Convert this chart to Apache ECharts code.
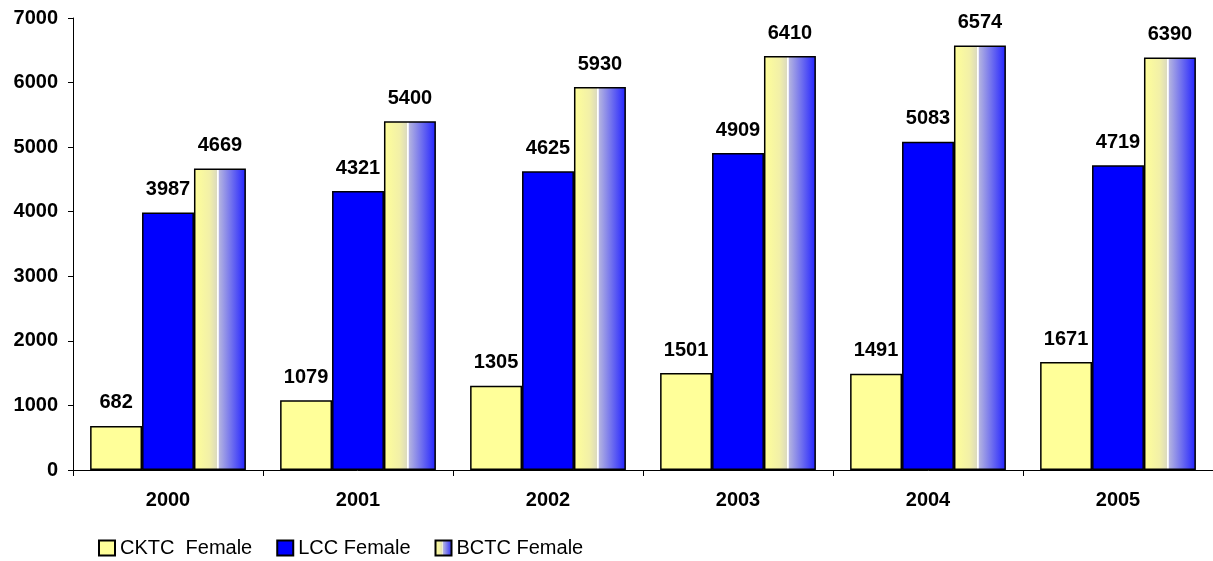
<!DOCTYPE html>
<html><head><meta charset="utf-8">
<script src="https://cdn.jsdelivr.net/npm/echarts@6/dist/echarts.min.js"></script>
<style>html,body{margin:0;padding:0;background:#fff}#c{width:1213px;height:561px}</style>
</head><body><div id="c"></div>
<script>
const categories = ['2000','2001','2002','2003','2004','2005'];
const cktc = [682,1079,1305,1501,1491,1671];
const lcc = [3987,4321,4625,4909,5083,4719];
const bctc = [4669,5400,5930,6410,6574,6390];
const seriesNames = ['CKTC  Female','LCC Female','BCTC Female'];

const grad = new echarts.graphic.LinearGradient(0,0,1,0,[
  {offset:0,color:'#FFFF99'},
  {offset:0.3,color:'#F2F0A8'},
  {offset:0.44,color:'#DCDBBE'},
  {offset:0.45,color:'#FFFFFF'},
  {offset:0.47,color:'#FFFFFF'},
  {offset:0.48,color:'#B4B4E0'},
  {offset:1,color:'#2222FF'}
]);
const font = "'Liberation Sans', Arial, sans-serif";
const lbl = {show:true,position:'top',distance:13,fontFamily:font,fontWeight:'bold',fontSize:20,color:'#000'};
const chart = echarts.init(document.getElementById('c'));
chart.setOption({
  animation:false,
  grid:{left:73,right:0,top:18,bottom:91},
  legend:{left:93,top:533,itemWidth:16,itemHeight:15,itemGap:24,icon:'rect',
    textStyle:{fontFamily:font,fontSize:20,color:'#000'},
    data:seriesNames},
  xAxis:{type:'category',data:categories,
    axisLine:{lineStyle:{color:'#000',width:1}},
    axisTick:{show:true,length:6,lineStyle:{color:'#000'}},
    axisLabel:{fontFamily:font,fontWeight:'bold',fontSize:20,color:'#000',margin:20}},
  yAxis:{type:'value',min:0,max:7000,interval:1000,
    axisLine:{show:true,lineStyle:{color:'#000'}},
    axisTick:{show:true,inside:false,length:5,lineStyle:{color:'#000'}},
    splitLine:{show:false},
    axisLabel:{fontFamily:font,fontWeight:'bold',fontSize:20,color:'#000',margin:15,
      formatter:v=>String(v)}},
  series:[
    {name:seriesNames[0],type:'bar',data:cktc,barGap:'0%',barCategoryGap:'18%',
      itemStyle:{color:'#FFFF99',borderColor:'#000',borderWidth:1.5},label:lbl},
    {name:seriesNames[1],type:'bar',data:lcc,barGap:'0%',barCategoryGap:'18%',
      itemStyle:{color:'#0000FF',borderColor:'#000',borderWidth:1.5},label:lbl},
    {name:seriesNames[2],type:'bar',data:bctc,barGap:'0%',barCategoryGap:'18%',
      itemStyle:{color:grad,borderColor:'#000',borderWidth:1.5},label:lbl}
  ]
});
</script></body></html>
